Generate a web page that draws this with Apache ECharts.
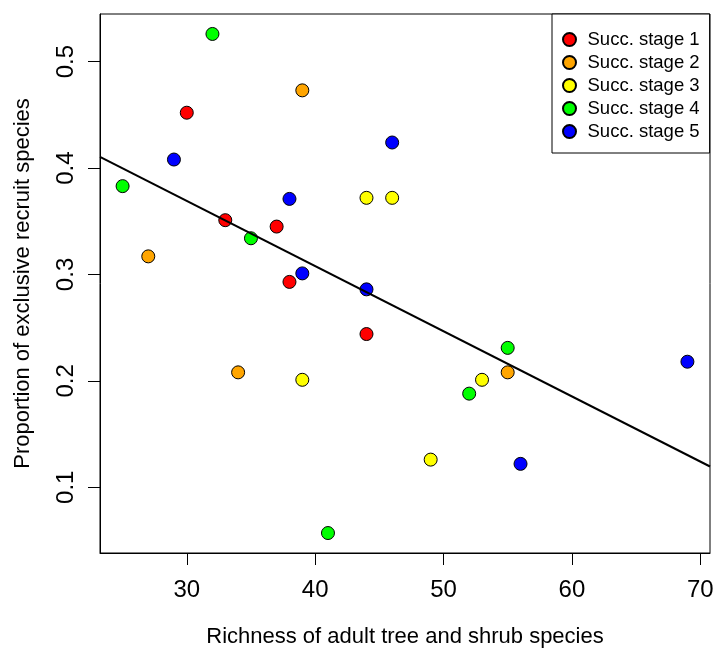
<!DOCTYPE html>
<html>
<head>
<meta charset="utf-8">
<script src="https://cdn.jsdelivr.net/npm/echarts@6/dist/echarts.min.js"></script>
<style>
html,body{margin:0;padding:0;background:#fff;}
#chart{width:717px;height:653px;}
</style>
</head>
<body>
<div id="chart"></div>
<script>
// ---- data ----
const stageNames = ['Succ. stage 1','Succ. stage 2','Succ. stage 3','Succ. stage 4','Succ. stage 5'];
const stageColors = ['#FF0000','#FFA500','#FFFF00','#00FF00','#0000FF'];

const stage1X = [30, 33, 37, 38, 44];
const stage1Y = [0.452, 0.351, 0.345, 0.293, 0.244];
const stage2X = [27, 34, 39, 55];
const stage2Y = [0.317, 0.208, 0.473, 0.208];
const stage3X = [39, 44, 46, 49, 53];
const stage3Y = [0.201, 0.372, 0.372, 0.126, 0.201];
const stage4X = [25, 32, 35, 41, 52, 55];
const stage4Y = [0.383, 0.526, 0.334, 0.057, 0.188, 0.231];
const stage5X = [29, 38, 39, 44, 46, 56, 69];
const stage5Y = [0.408, 0.371, 0.301, 0.286, 0.424, 0.122, 0.218];

const xTicks = [30, 40, 50, 60, 70];
const yTicks = [0.1, 0.2, 0.3, 0.4, 0.5];

const xTitle = 'Richness of adult tree and shrub species';
const yTitle = 'Proportion of exclusive recruit species';

// ---- derived ----
const allX = [stage1X, stage2X, stage3X, stage4X, stage5X];
const allY = [stage1Y, stage2Y, stage3Y, stage4Y, stage5Y];
const xs = [].concat(...allX), ys = [].concat(...allY);

function rExt(arr){ const mn = Math.min(...arr), mx = Math.max(...arr); const d = (mx-mn)*0.04; return [mn-d, mx+d]; }
const xExt = rExt(xs), yExt = rExt(ys);

// least squares fit
const n = xs.length;
const mx = xs.reduce((a,b)=>a+b,0)/n, my = ys.reduce((a,b)=>a+b,0)/n;
let sxy = 0, sxx = 0;
for (let i=0;i<n;i++){ sxy += (xs[i]-mx)*(ys[i]-my); sxx += (xs[i]-mx)*(xs[i]-mx); }
const slope = sxy/sxx, icpt = my - slope*mx;
const fitLine = [[xExt[0], icpt+slope*xExt[0]], [xExt[1], icpt+slope*xExt[1]]];

const FONT = 'Liberation Sans, Arial, Helvetica, sans-serif';

const series = stageNames.map((name, k) => ({
  name: name,
  type: 'scatter',
  symbol: 'circle',
  symbolSize: 13,
  itemStyle: { color: stageColors[k], borderColor: '#000', borderWidth: 1, opacity: 1 },
  emphasis: { disabled: true },
  data: allX[k].map((x, i) => [x, allY[k][i]]),
  z: 2
}));
series.push({
  name: 'fit',
  type: 'line',
  data: fitLine,
  symbol: 'none',
  lineStyle: { color: '#000', width: 2 },
  emphasis: { disabled: true },
  silent: true,
  z: 3
});

const chart = echarts.init(document.getElementById('chart'), null, { renderer: 'canvas' });
chart.setOption({
  animation: false,
  backgroundColor: '#fff',
  textStyle: { fontFamily: FONT },
  grid: { left: 100, right: 7, top: 14, bottom: 96, show: true, borderColor: '#000', borderWidth: 1, containLabel: false },
  legend: {
    data: stageNames,
    orient: 'vertical',
    left: 552,
    top: 14,
    icon: 'circle',
    itemWidth: 26,
    itemHeight: 13,
    itemGap: 4,
    padding: [16, 10, 12, 10],
    borderColor: '#000',
    borderWidth: 1,
    backgroundColor: '#fff',
    textStyle: { fontFamily: FONT, fontSize: 18.5, color: '#000', lineHeight: 18 },
    selectedMode: false
  },
  xAxis: {
    type: 'value',
    min: xExt[0], max: xExt[1],
    name: xTitle,
    nameLocation: 'middle',
    nameGap: 73,
    nameTextStyle: { fontFamily: FONT, fontSize: 22, color: '#000' },
    axisLine: { show: true, lineStyle: { color: '#000', width: 1 } },
    axisTick: { show: true, length: 12, lineStyle: { color: '#000' }, customValues: xTicks },
    axisLabel: { fontFamily: FONT, fontSize: 24, color: '#000', margin: 25, customValues: xTicks },
    splitLine: { show: false }
  },
  yAxis: {
    type: 'value',
    min: yExt[0], max: yExt[1],
    name: yTitle,
    nameLocation: 'middle',
    nameRotate: 90,
    nameGap: 66,
    nameTextStyle: { fontFamily: FONT, fontSize: 22, color: '#000' },
    axisLine: { show: true, lineStyle: { color: '#000', width: 1 } },
    axisTick: { show: true, length: 12, lineStyle: { color: '#000' }, customValues: yTicks },
    axisLabel: { fontFamily: FONT, fontSize: 24, color: '#000', margin: 22, rotate: 90, customValues: yTicks, formatter: v => v.toFixed(1) },
    splitLine: { show: false }
  },
  series: series
});
</script>
</body>
</html>
